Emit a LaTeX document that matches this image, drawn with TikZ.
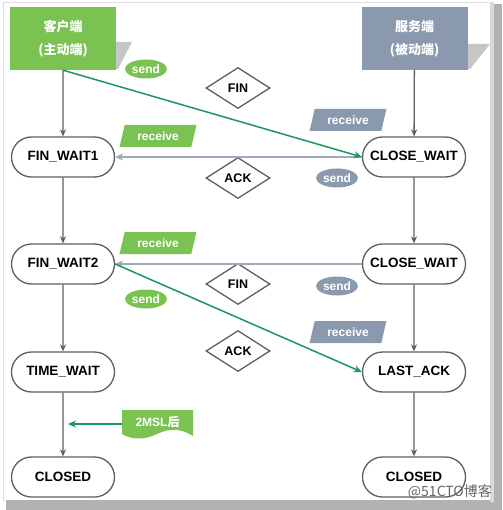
\documentclass[tikz,border=0pt]{standalone}
\usepackage{fontspec}
\setmainfont{Liberation Sans}
\newfontfamily\cjk{Noto Sans CJK SC}
\usetikzlibrary{shapes.geometric,shapes.misc,arrows.meta}
\definecolor{cgreen}{RGB}{122,194,82}
\definecolor{cslate}{RGB}{139,153,174}
\definecolor{cline}{RGB}{28,150,100}
\definecolor{cgray}{RGB}{95,95,95}
\definecolor{cblue}{RGB}{160,168,185}
\begin{document}
\begin{tikzpicture}[x=1pt,y=-1pt,
  state/.style={draw=cgray,line width=1.3pt,rounded rectangle,minimum width=103pt,minimum height=40pt,fill=white,font=\bfseries\fontsize{13.5}{13.5}\selectfont,inner sep=0pt},
  endbox/.style={minimum width=106pt,minimum height=63pt,font=\cjk\bfseries\fontsize{13}{23}\selectfont,text=white,align=center,inner sep=0pt},
  msg/.style={draw=cgray,line width=1.3pt,diamond,minimum width=64pt,minimum height=41pt,aspect=1.6,inner sep=0pt,fill=white,font=\bfseries\fontsize{12.5}{12.5}\selectfont},
  sendlbl/.style={ellipse,minimum width=42pt,minimum height=19pt,inner sep=0pt,text=white,font=\bfseries\fontsize{12}{12}\selectfont},
  recvlbl/.style={trapezium,trapezium left angle=70,trapezium right angle=110,trapezium stretches=true,minimum width=77pt,minimum height=22pt,inner sep=0pt,text=white,font=\bfseries\fontsize{12}{12}\selectfont},
  flow/.style={draw=cgray,line width=1.3pt,-{Stealth[length=7pt,width=6pt]}},
  gline/.style={draw=cline,line width=1.5pt,-{Stealth[length=8pt,width=7pt]}},
  bline/.style={draw=cblue,line width=1.5pt,-{Stealth[length=8pt,width=7pt]}}
]
\useasboundingbox (0,0) rectangle (502,510);
% frame
\fill[white] (0,0) rectangle (502,510);
\fill[gray!60] (492,4) rectangle (502,510);
\fill[gray!60] (6,500) rectangle (502,510);
\fill[gray!30] (490,2) rectangle (494,502);
\draw[gray!25,line width=0.8pt] (3,502) -- (3,2) -- (490,2);
% shadows of the end boxes
\fill[gray!45] (116,42) -- (132,42) -- (118,69) -- (116,69) -- cycle;
\fill[gray!45] (467,44) -- (490,44) -- (470,69) -- (467,69) -- cycle;
% end boxes
\node[endbox,fill=cgreen] (cli) at (63,38.5) {客户端\\(主动端)};
\node[endbox,fill=cslate] (srv) at (414.5,38.5) {服务端\\(被动端)};
% states
\node[state] (fw1) at (63,157) {FIN\_WAIT1};
\node[state] (fw2) at (63,264) {FIN\_WAIT2};
\node[state] (tw) at (63,372) {TIME\_WAIT};
\node[state] (cl1) at (63,477) {CLOSED};
\node[state] (cw1) at (414,157) {CLOSE\_WAIT};
\node[state] (cw2) at (414,264) {CLOSE\_WAIT};
\node[state] (la) at (414,372) {LAST\_ACK};
\node[state] (cl2) at (414,477) {CLOSED};
% messages
\node[msg] (fin1) at (238,88) {FIN};
\node[msg] (ack1) at (238,178) {ACK};
\node[msg] (fin2) at (238,284) {FIN};
\node[msg] (ack2) at (238,351) {ACK};
% labels
\node[sendlbl,fill=cgreen] (s1) at (146,69) {send};
\node[recvlbl,fill=cgreen] (r1) at (158,136) {receive};
\node[recvlbl,fill=cslate] (r2) at (348,120) {receive};
\node[sendlbl,fill=cslate] (s2) at (337,178) {send};
\node[recvlbl,fill=cgreen] (r3) at (158,243) {receive};
\node[sendlbl,fill=cgreen] (s3) at (146,299) {send};
\node[sendlbl,fill=cslate] (s4) at (337,286) {send};
\node[recvlbl,fill=cslate] (r4) at (348,332) {receive};
% 2MSL document shape
\fill[cgreen] (122,410) -- (193,410) -- (193,436) .. controls (180,428) and (170,428) .. (157,434) .. controls (145,440) and (132,440) .. (122,434) -- cycle;
\node[text=white,font=\bfseries\fontsize{12}{12}\selectfont,inner sep=0pt] (msl) at (157.5,422) {2MSL{\cjk 后}};
\coordinate (mslL) at (122,424);
\coordinate (mslT) at (68,424);
% vertical flows
\draw[flow] (cli) -- (fw1);
\draw[flow] (fw1) -- (fw2);
\draw[flow] (fw2) -- (tw);
\draw[flow] (tw) -- (cl1);
\draw[flow] (srv) -- (cw1);
\draw[flow] (cw1) -- (cw2);
\draw[flow] (cw2) -- (la);
\draw[flow] (la) -- (cl2);
% messages lines
\draw[bline] (cw1.west) -- (fw1.east);
\draw[bline] (cw2.west) -- (fw2.east);
\draw[gline] (cli.south) -- (cw1.west);
\draw[gline] (fw2.east) -- (la.west);
\draw[gline] (mslL) -- (mslT);
% watermark
\node[anchor=south east,inner sep=0pt,text=gray!80!black,font=\cjk\fontsize{14}{14}\selectfont] (wm) at (492,499) {@51CTO博客};
\end{tikzpicture}
\end{document}
